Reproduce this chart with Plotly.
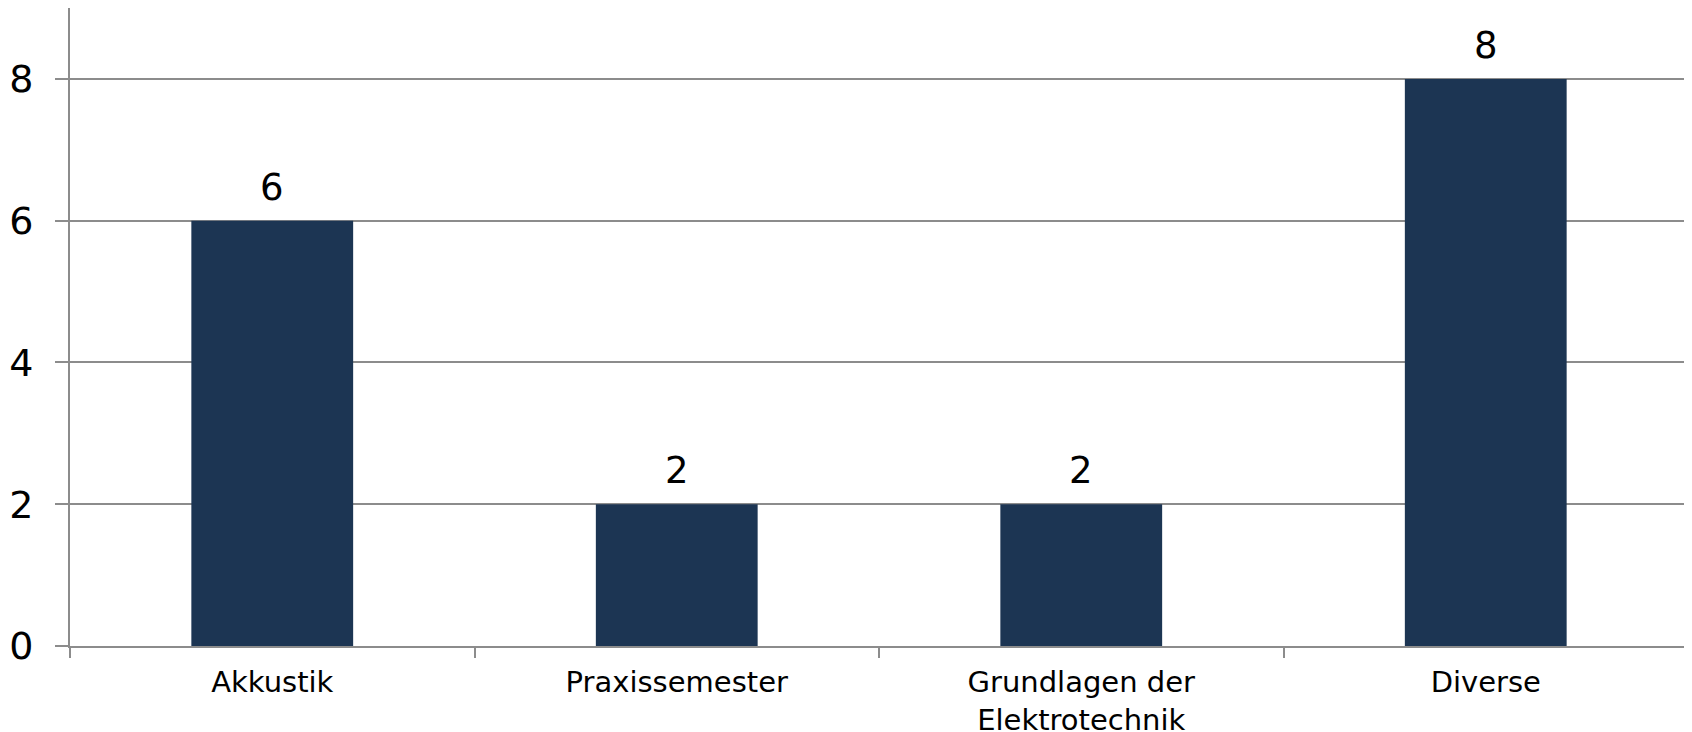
import plotly.graph_objects as go


# -------------------------------------------------
# Data
# -------------------------------------------------

categories = ["Akkustik", "Praxissemester", "Grundlagen der<br>Elektrotechnik", "Diverse"]
counts = [6, 2, 2, 8]
y_ticks = [0, 2, 4, 6, 8]

bar_color = "#1c3553"
grid_color = "#8c8c8c"
font_family = "DejaVu Sans, Verdana, sans-serif"


# -------------------------------------------------
# Figure
# -------------------------------------------------

fig = go.Figure()

fig.add_trace(
    go.Bar(
        x=categories,
        y=counts,
        marker=dict(color=bar_color, line=dict(width=0)),
        hoverinfo="skip"
    )
)

# value labels above the bars
for cat, val in zip(categories, counts):
    fig.add_annotation(
        x=cat,
        y=val,
        text=str(val),
        showarrow=False,
        yanchor="bottom",
        yshift=10,
        font=dict(family=font_family, size=37, color="#000000")
    )

# page body adds an 8px offset, so the figure is a bit smaller than the window
fig.update_layout(
    width=1684,
    height=724,
    margin=dict(l=62, r=4, t=0, b=86),
    paper_bgcolor="white",
    plot_bgcolor="white",
    bargap=0.6,
    showlegend=False,
    font=dict(family=font_family, color="#000000")
)

fig.update_xaxes(
    type="category",
    range=[-0.5, 3.5],
    automargin=False,
    showline=True,
    linecolor=grid_color,
    linewidth=2,
    showgrid=False,
    ticks="outside",
    tickson="boundaries",
    ticklen=10,
    tickwidth=1.5,
    tickcolor=grid_color,
    ticklabelstandoff=9,
    tickfont=dict(family=font_family, size=29, color="#000000")
)

fig.update_yaxes(
    range=[0, 9],
    tickvals=y_ticks,
    automargin=False,
    showline=True,
    linecolor=grid_color,
    linewidth=2,
    showgrid=True,
    gridcolor=grid_color,
    gridwidth=1.5,
    zeroline=False,
    ticks="outside",
    ticklen=13,
    tickwidth=1.5,
    tickcolor=grid_color,
    ticklabelstandoff=14,
    tickfont=dict(family=font_family, size=38, color="#000000")
)

fig.write_html("out.html")
